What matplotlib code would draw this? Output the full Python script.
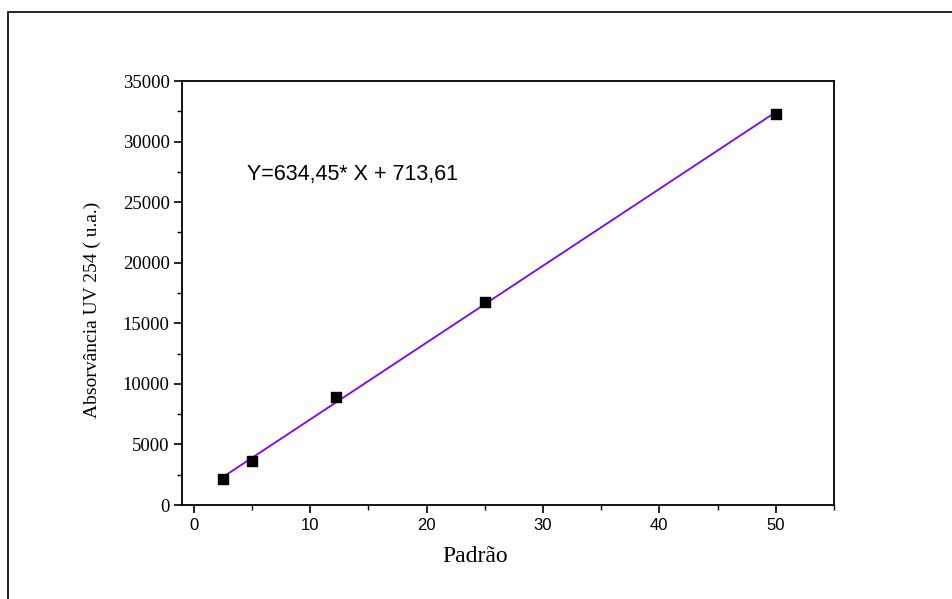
import matplotlib
matplotlib.use("Agg")
import matplotlib.pyplot as plt
import numpy as np
from matplotlib.ticker import MultipleLocator
from matplotlib.patches import Rectangle

# Data
padrao = [2.5, 5.0, 12.2, 25.0, 50.0]
absorbancia = [2140, 3630, 8890, 16780, 32260]
slope = 634.45
intercept = 713.61
equation = "Y=634,45* X + 713,61"
x_ticks = [0, 10, 20, 30, 40, 50]
y_ticks = [0, 5000, 10000, 15000, 20000, 25000, 30000, 35000]

fig = plt.figure(figsize=(9.53, 5.99), dpi=100)
fig.patches.append(Rectangle((8.5/953, -0.1), 1.2, (599-12)/599 + 0.1,
                             transform=fig.transFigure, fill=False,
                             edgecolor='black', linewidth=1.2, zorder=0))

ax = fig.add_axes([182/953, 94/599, (834-182)/953, (505-81)/599])

xfit = np.array([padrao[0], padrao[-1]])
ax.plot(xfit, slope * xfit + intercept, color='#8000FF', linewidth=1.3, zorder=2)
ax.scatter(padrao, absorbancia, marker='s', s=60, color='black', zorder=3)

ax.set_xlim(-1, 55)
ax.set_ylim(0, 35000)
ax.set_xticks(x_ticks)
ax.set_yticks(y_ticks)
ax.xaxis.set_minor_locator(MultipleLocator(5))
ax.yaxis.set_minor_locator(MultipleLocator(2500))
ax.tick_params(which='major', direction='out', length=6, width=1.2,
               top=False, right=False)
ax.tick_params(axis='y', which='major', pad=3)
ax.tick_params(which='minor', direction='out', length=3.5, width=1.0,
               top=False, right=False)

for lab in ax.get_xticklabels():
    lab.set_fontfamily('Liberation Sans')
    lab.set_fontsize(12)
for lab in ax.get_yticklabels():
    lab.set_fontfamily('Liberation Serif')
    lab.set_fontsize(13.5)

for s in ax.spines.values():
    s.set_linewidth(1.3)

fig.text(475/953, 1 - 556/599, 'Padrão', fontfamily='Liberation Serif',
         fontsize=17, ha='center', va='center')
fig.text(92/953, 1 - 310/599, 'Absorvância UV 254 ( u.a.)',
         fontfamily='Liberation Serif', fontsize=14, rotation=90,
         ha='center', va='center')

ax.text(4.6, 27300, equation, fontfamily='Liberation Sans', fontsize=15.5,
        ha='left', va='center')

fig.savefig('out.png', dpi=100)
